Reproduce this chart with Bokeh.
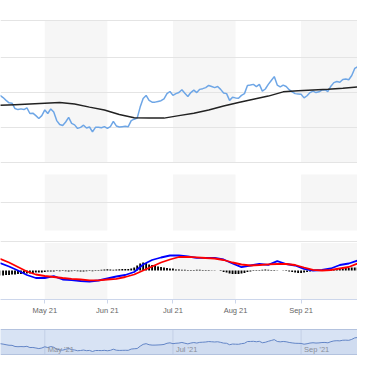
import pandas as pd
from bokeh.plotting import figure
from bokeh.models import Range1d, FixedTicker, Span
from bokeh.layouts import column
from bokeh.embed import file_html
from bokeh.resources import INLINE
from bokeh.core.properties import value

# ---------------- data ----------------
holidays = ["2021-07-05", "2021-09-06"]
dates = [d for d in pd.bdate_range("2021-04-12", "2021-10-01")
         if d.strftime("%Y-%m-%d") not in holidays]

price = [138.9, 138.3, 137.5, 136.8, 136.7, 135.2, 134.9, 135.1, 134.9, 135.4,
         133.8, 133.9, 133.2, 132.4, 133.2, 134.8, 133.8, 135.1, 134.2, 131.8,
         130.7, 130.4, 131.4, 132.7, 131.0, 130.6, 129.6, 129.9, 130.5, 129.7,
         130.0, 128.6, 129.9, 129.9, 129.8, 130.1, 129.6, 130.1, 131.6, 130.3,
         130.0, 130.1, 130.2, 130.1, 131.8, 132.2, 132.5, 135.6, 138.0, 138.9,
         137.5, 137.0, 137.0, 137.2, 137.4, 137.9, 139.4, 140.0, 138.9, 139.4,
         139.7, 140.5, 139.5, 138.6, 139.7, 140.4, 139.7, 140.6, 140.8, 141.1,
         141.7, 141.4, 141.1, 141.4, 140.6, 139.6, 139.4, 137.5, 138.4, 138.2,
         138.1, 138.9, 139.4, 141.7, 141.8, 142.0, 141.4, 142.0, 140.1, 140.7,
         142.0, 143.1, 144.2, 141.8, 141.3, 141.8, 141.4, 140.5, 139.9, 139.4,
         139.3, 139.2, 138.2, 138.8, 139.7, 140.1, 139.7, 139.9, 140.4, 140.5,
         140.0, 141.5, 142.5, 142.8, 142.6, 143.4, 143.5, 143.3, 144.5, 146.5,
         147.0, 146.4, 145.4]

sma_pos = list(range(0, 121, 5)) + [122]
sma = [136.1, 136.3, 136.5, 136.7, 136.9, 136.5, 135.6, 134.8, 133.5, 132.6,
       132.5, 132.5, 133.2, 133.9, 134.8, 135.9, 136.9, 137.8, 138.7, 139.9,
       140.2, 140.4, 140.6, 140.9, 141.3, 141.4]

macd_pos = list(range(0, 121, 3)) + [122]
macd = [0.75, 0.4, 0.0, -0.45, -0.75, -0.75, -0.57, -0.9, -0.97, -1.05,
        -1.1, -1.0, -0.8, -0.6, -0.45, -0.15, 0.6, 1.05, 1.3, 1.5,
        1.5, 1.4, 1.27, 1.27, 1.27, 1.1, 0.7, 0.33, 0.5, 0.65,
        0.57, 0.93, 0.65, 0.5, 0.17, 0.0, 0.05, 0.2, 0.55, 0.7,
        1.0, 1.17]
signal = [1.17, 0.8, 0.35, -0.1, -0.4, -0.55, -0.65, -0.75, -0.83, -0.9,
          -0.98, -0.98, -0.9, -0.83, -0.65, -0.4, 0.0, 0.4, 0.8, 1.1,
          1.35, 1.37, 1.32, 1.25, 1.2, 1.05, 0.8, 0.6, 0.5, 0.55,
          0.62, 0.65, 0.65, 0.55, 0.3, 0.07, 0.0, 0.05, 0.2, 0.35,
          0.7, 0.83]
hist = [-0.5, -0.5, -0.45, -0.45, -0.4, -0.4, -0.35, -0.35, -0.3, -0.3,
        -0.3, -0.25, -0.2, -0.2, -0.2, -0.15, -0.1, -0.1, -0.1, -0.05,
        -0.08, -0.05, -0.08, -0.1, -0.08, -0.05, -0.08, -0.1, -0.1, -0.08,
        -0.05, -0.08, -0.05,
        0.05, 0.08, 0.1, 0.12, 0.1, 0.08, 0.1, 0.12, 0.15, 0.15, 0.15,
        0.2, 0.3, 0.5, 0.7, 0.8, 0.75, 0.6, 0.55, 0.5, 0.4,
        0.35, 0.3, 0.25, 0.2, 0.2,
        0.1, 0.1, 0.08, 0.08, 0.05, 0.05, 0.05, 0.08, 0.08, 0.05,
        0.05, 0.05, 0.03, 0.03, 0.0, -0.05,
        -0.15, -0.2, -0.3, -0.35, -0.35, -0.35, -0.3, -0.25, -0.15, -0.1,
        0.05, -0.05, 0.05, 0.08, 0.1, 0.08, 0.05, 0.05, 0.03, 0.0, -0.03, -0.05,
        -0.1, -0.15, -0.2, -0.25, -0.25, -0.2, -0.15, -0.1, -0.05,
        -0.05, 0.0, 0.05, 0.05, 0.1,
        0.1, 0.15, 0.15, 0.2, 0.2, 0.25, 0.25, 0.3, 0.3, 0.3, 0.3, 0.35]

month_labels = ["May 21", "Jun 21", "Jul 21", "Aug 21", "Sep 21", "Oct 21"]
nav_labels = ["May '21", "Jul '21", "Sep '21"]

# ---------------- derived positions ----------------
n = min(len(price), len(dates))
xs = list(range(n))
month_idx = [i for i in range(1, n) if dates[i].month != dates[i - 1].month]
band_l = [month_idx[0], month_idx[2], month_idx[4]]
band_r = [month_idx[1], month_idx[3], month_idx[5]]

BAND = "#f6f6f6"
GRID = "#e4e4e4"
FONT = "Liberation Sans"

x_range = Range1d(0.134, 119.93)

p = figure(width=357, height=321, x_range=x_range,
           y_range=Range1d(81.41, 165.63),
           output_backend="svg", toolbar_location=None,
           y_axis_location=None, x_axis_location="below",
           min_border_left=0, min_border_right=0, min_border_top=0,
           min_border_bottom=22, outline_line_color=None,
           background_fill_color="white", border_fill_color="white")
p.extra_y_ranges = {"p2": Range1d(-2.464, 8.214), "macd": Range1d(-2.9, 27.0)}
p.grid.visible = False

# plot bands per pane
p.quad(left=band_l, right=band_r, bottom=120, top=160, fill_color=BAND,
       line_color=None, level="image")
p.quad(left=band_l, right=band_r, bottom=0, top=2, fill_color=BAND,
       line_color=None, level="image", y_range_name="p2")
p.quad(left=band_l, right=band_r, bottom=-2.9, top=2.75, fill_color=BAND,
       line_color=None, level="image", y_range_name="macd")

# grid lines
for loc in [120, 129.86, 139.72, 149.58, 160]:
    p.add_layout(Span(location=loc, dimension="width", line_color=GRID,
                      line_width=1, level="underlay"))
p.add_layout(Span(location=1.0, dimension="width", line_color=GRID,
                  line_width=1, level="underlay", y_range_name="p2"))
p.add_layout(Span(location=2.9, dimension="width", line_color=GRID,
                  line_width=1, level="underlay", y_range_name="macd"))

# price + SMA
p.line(xs, price[:n], line_color="#6ea6e6", line_width=1.5)
p.line(sma_pos, sma, line_color="#222222", line_width=1.5)

# MACD pane
p.vbar(x=xs, top=hist[:n], bottom=0, width=0.62, fill_color="black",
       line_color=None, y_range_name="macd")
p.line(macd_pos, macd, line_color="#0000ff", line_width=1.8, y_range_name="macd")
p.line(macd_pos, signal, line_color="#ff0000", line_width=1.8, y_range_name="macd")

ax = p.xaxis[0]
ax.ticker = FixedTicker(ticks=month_idx)
ax.major_label_overrides = {int(t): lab for t, lab in zip(month_idx, month_labels)}
ax.axis_line_color = "#ccd6eb"
ax.major_tick_line_color = "#ccd6eb"
ax.major_tick_out = 4
ax.major_tick_in = 0
ax.minor_tick_line_color = None
ax.major_label_text_font = FONT
ax.major_label_text_font_size = "7.5px"
ax.major_label_text_color = "#666666"
ax.major_label_standoff = 2

# ---------------- navigator ----------------
NAV_TOP, NAV_BOT = 157.51, 124.66
nav = figure(width=357, height=36, x_range=x_range,
             y_range=Range1d(120.71, 168.03),
             output_backend="svg", toolbar_location=None,
             x_axis_location=None, y_axis_location=None,
             min_border_left=0, min_border_right=0, min_border_top=0,
             min_border_bottom=0, outline_line_color=None,
             background_fill_color="white", border_fill_color="white")
nav.grid.visible = False
nav.quad(left=-2, right=n + 2, bottom=NAV_BOT, top=NAV_TOP,
         fill_color="#d8e3f4", line_color=None, level="image")
nav_ticks = [month_idx[0], month_idx[2], month_idx[4]]
nav.segment(x0=nav_ticks, x1=nav_ticks, y0=NAV_BOT, y1=NAV_TOP,
            line_color="#c3cfe6", line_width=1)
nav.varea(x=xs, y1=price[:n], y2=NAV_BOT, fill_color="#335cad", fill_alpha=0.05)
nav.line(xs, price[:n], line_color="#6385c6", line_width=1)
nav.text(x=nav_ticks, y=[130.57] * 3, text=nav_labels,
         text_font=value(FONT), text_font_size=value("7.5px"),
         text_color="#8a8f99", text_align="left", text_baseline="middle",
         x_offset=3)
for loc in [NAV_TOP, NAV_BOT]:
    nav.add_layout(Span(location=loc, dimension="width", line_color="#b3c2de",
                        line_width=1))

layout = column(p, nav)
open("out.html", "w").write(file_html(layout, INLINE))
